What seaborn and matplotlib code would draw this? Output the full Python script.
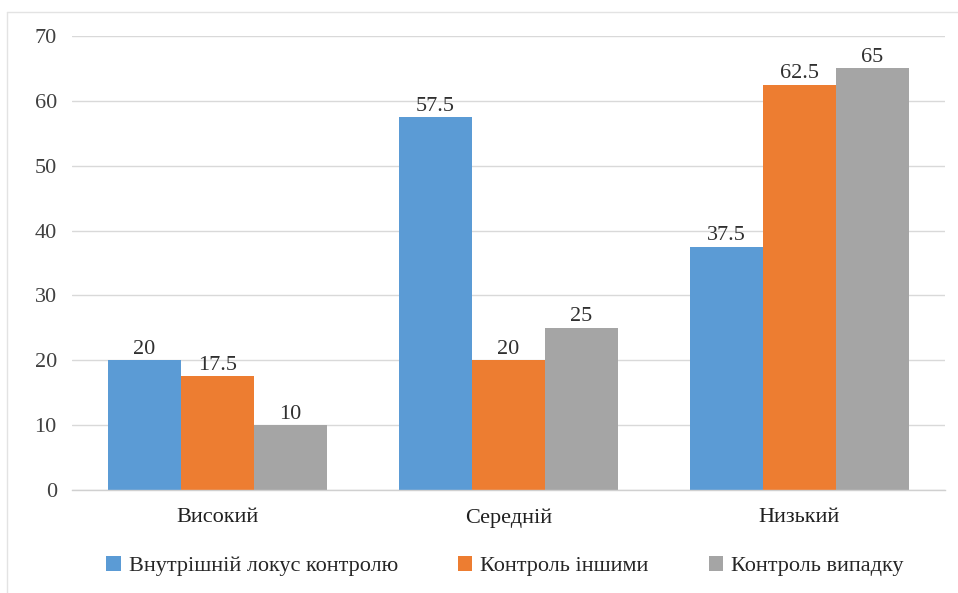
import matplotlib
matplotlib.use("Agg")
import matplotlib.pyplot as plt
from matplotlib.lines import Line2D
from matplotlib.patches import Patch
import seaborn as sns
import pandas as pd

levels = ["Високий", "Середній", "Низький"]
series = ["Внутрішній локус контролю", "Контроль іншими", "Контроль випадку"]
internal = [20, 57.5, 37.5]
others = [17.5, 20, 62.5]
chance = [10, 25, 65]
colors = ["#5B9BD5", "#ED7D31", "#A5A5A5"]
y_ticks = [0, 10, 20, 30, 40, 50, 60, 70]

df = pd.DataFrame({
    "level": levels * 3,
    "series": [series[0]] * 3 + [series[1]] * 3 + [series[2]] * 3,
    "value": internal + others + chance,
})

sns.set_theme(style="white")
serif = ["Liberation Serif", "DejaVu Serif"]
plt.rcParams["font.family"] = serif

FS = 16

fig = plt.figure(figsize=(9.58, 5.93), dpi=100)
ax = fig.add_axes([0.0752, 0.1737, 0.9112, 0.7656])

sns.barplot(data=df, x="level", y="value", hue="series", order=levels,
            hue_order=series, palette=colors, width=0.753, saturation=1,
            edgecolor="none", linewidth=0, ax=ax, legend=False)

ax.set_ylim(0, 70)
ax.set_xlim(-0.5, 2.5)
ax.set_yticks(y_ticks)
ax.set_yticklabels([str(t) for t in y_ticks], fontsize=FS, color="#404040",
                   family=serif)
ax.set_xticks(range(len(levels)))
ax.set_xticklabels(levels, fontsize=FS, color="#202020", family=serif)
ax.tick_params(axis="y", length=0, pad=11)
ax.tick_params(axis="x", length=0, pad=13)
ax.set_xlabel("")
ax.set_ylabel("")
ax.grid(axis="y", color="#D9D9D9", linewidth=1)
ax.set_axisbelow(True)
for side in ["top", "right", "left"]:
    ax.spines[side].set_visible(False)
ax.spines["bottom"].set_color("#D0D0D0")
ax.spines["bottom"].set_linewidth(1)

for cont in ax.containers:
    labels = [f"{v:g}" for v in cont.datavalues]
    ax.bar_label(cont, labels=labels, padding=1, fontsize=FS, color="#303030",
                 family=serif)

handles = [Patch(facecolor=c, edgecolor="none") for c in colors]
fig.legend(handles, series, loc="center", bbox_to_anchor=(0.527, 0.045),
           ncol=3, frameon=False, prop={"family": serif, "size": FS},
           handlelength=0.65, handleheight=0.65, handletextpad=0.35,
           columnspacing=2.7)

# light frame lines along the top and left of the chart area
fig.add_artist(Line2D([7 / 958, 1.0], [1 - 12 / 593, 1 - 12 / 593],
                      transform=fig.transFigure, color="#E3E3E3", linewidth=1))
fig.add_artist(Line2D([7 / 958, 7 / 958], [0.0, 1 - 12 / 593],
                      transform=fig.transFigure, color="#E3E3E3", linewidth=1))

fig.savefig("out.png", dpi=100, facecolor="white")
